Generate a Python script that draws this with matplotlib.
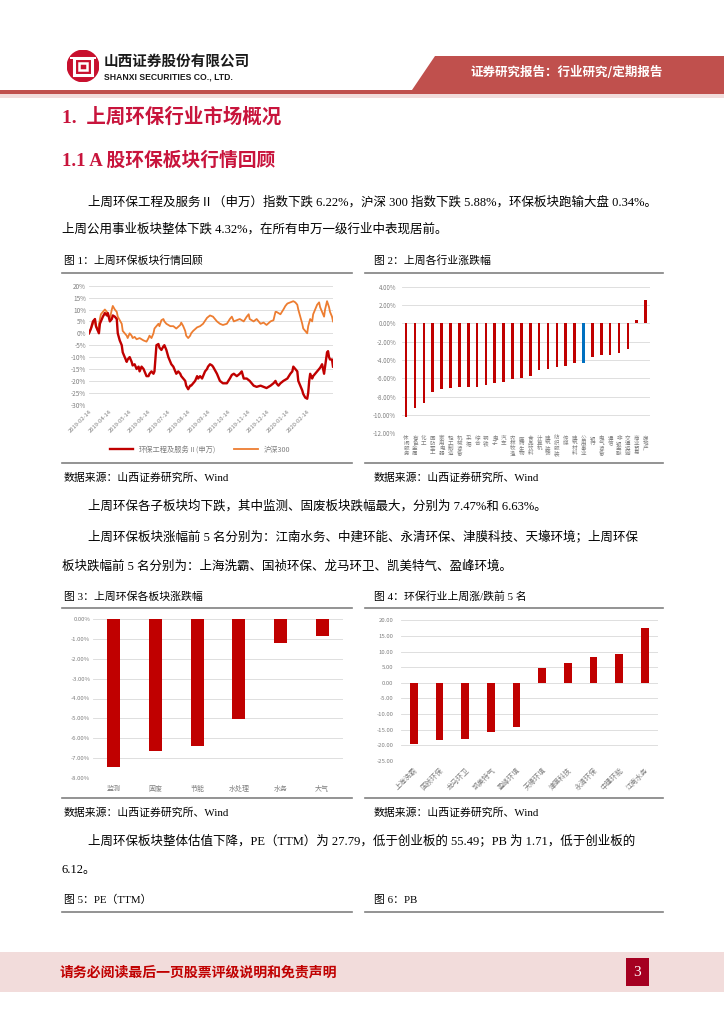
import matplotlib
matplotlib.use("Agg")
import matplotlib.pyplot as plt
from matplotlib.lines import Line2D
from matplotlib.patches import Rectangle, Polygon, Circle

plt.rcParams['font.family'] = ['Noto Sans CJK SC', 'DejaVu Sans']
plt.rcParams['axes.unicode_minus'] = False

W, H = 724, 1024
SERIF = ['Liberation Serif', 'Noto Sans CJK SC']
RED = '#C00000'
GRID = '#D9D9D9'
TICK = '#7F7F7F'

# ---- 图1 数据: 交易日序号 / 累计涨跌幅(%)
hb_day = [0, 2, 4, 6, 7, 9, 10, 11, 13, 14, 16, 18, 19, 21, 23, 24, 26, 28, 29, 31,
          33, 34, 36, 38, 39, 41, 43, 44, 46, 48, 50, 51, 53, 55, 56, 58, 60, 61, 63, 65,
          66, 68, 70, 71, 73, 75, 76, 78, 80, 82, 83, 85, 87, 88, 90, 92, 93, 95, 97, 98,
          100, 102, 103, 105, 107, 109, 110, 112, 114, 115, 117, 119, 120, 122, 124, 125, 129, 132, 135, 139,
          142, 144, 146, 149, 152, 154, 156, 159, 162, 166, 169, 173, 176, 179, 183, 186, 188, 189, 191, 193,
          196, 200, 203, 205, 206, 208, 210, 211, 213, 215, 216, 218, 220, 221, 222, 223, 225, 226, 228, 230,
          232, 233, 235, 237, 238, 240, 241, 242, 243, 245, 246]
hb_val = [0, 2, 5, 6, 3, 1, 0, 4, 6, 7, 8.5, 7.5, 8.5, 5, 6, 7.5, 7, 6, 0, -3,
          -5, -8, -10, -12, -11, -10, -12, -13.5, -13, -15, -14, -16, -14, -15, -16, -18, -18, -17, -16, -17,
          -16, -5, -4.5, -6, -7, -5.5, -5, -7, -10, -12, -13, -14, -16, -17, -16, -17, -18, -19, -20, -22,
          -23.5, -22, -22, -21, -20, -18, -19, -18, -19, -18, -16, -15, -14, -13, -13.5, -14, -17, -20, -21, -21,
          -19, -17.5, -17, -18, -17, -16, -19, -19, -20, -22, -22.5, -22, -22.5, -23, -22, -21, -20, -21, -22, -21,
          -20, -19, -17, -16, -14, -15, -16, -20, -22, -24, -25.5, -27, -27.5, -25, -20, -17, -19, -18, -17, -16,
          -15, -14.5, -13, -17, -14, -8, -7.5, -10, -11, -11, -14]
hs_day = [0, 2, 4, 6, 7, 9, 11, 12, 14, 16, 18, 19, 21, 23, 24, 26, 28, 29, 31, 33,
          34, 36, 38, 39, 41, 43, 44, 46, 48, 51, 55, 58, 60, 61, 63, 65, 66, 68, 70, 71,
          73, 75, 76, 78, 82, 85, 88, 92, 93, 95, 97, 98, 100, 102, 103, 105, 109, 112, 115, 119,
          122, 125, 129, 132, 135, 139, 142, 144, 146, 149, 152, 156, 159, 161, 162, 166, 169, 173, 176, 179,
          183, 186, 188, 189, 193, 196, 198, 200, 203, 206, 208, 210, 211, 213, 215, 216, 218, 220, 221, 223,
          225, 226, 228, 230, 232, 233, 235, 237, 238, 240, 242, 243, 245, 246]
hs_val = [0, 2, 4, 6, 3, 1, 6, 8, 9, 10, 9, 8, 6, 10, 11.5, 10, 9, 7, 5.5, 4,
          1, 0, -1, -2, 0, -1, -2, -1.5, -2.5, -2, -3, -3.5, -2, -1, -2, 0, 2, 3, 4, 3,
          5.5, 6, 5, 4, 3, 3, 2, 3.5, 4.5, 3, 1, -1, -2, -1, 0, 1, 2.5, 3, 4, 6.5,
          7.5, 7, 5, 4, 3.5, 4, 6, 7, 5, 5.5, 6, 5, 7, 8, 6, 5, 6, 4, 4.5, 3.5,
          5, 5.5, 9, 9, 8, 10, 11.5, 12.5, 13, 13.5, 13, 12, 10, 7, 4, 2, 1, 0, 3, 6,
          5, 8, 10, 12, 13, 11, 9, 7, 10, 13.5, 11, 9, 7, 5]
date_ticks = [0, 20, 40, 60, 80, 100, 120, 140, 160, 180, 200, 220]
date_labels = ['2019-02-14', '2019-04-14', '2019-05-14', '2019-06-14', '2019-07-14', '2019-08-14',
               '2019-09-14', '2019-10-14', '2019-11-14', '2019-12-14', '2020-01-14', '2020-02-14']

# ---- 图2 数据: 申万一级行业上周涨跌幅(%)
ind_names = ['休闲服务', '有色金属', '化工', '国防军工', '家用电器', '轻工制造', '机械设备', '采掘',
             '综合', '钢铁', '电子', '汽车', '农林牧渔', '医药生物', '食品饮料', '计算机',
             '建筑装饰', '纺织服装', '传媒', '建筑材料', '公用事业', '银行', '电气设备', '通信',
             '非银金融', '交通运输', '商业贸易', '房地产']
ind_vals = [-10.2, -9.25, -8.7, -7.5, -7.2, -7.1, -7.0, -7.0, -6.9, -6.7, -6.5, -6.45, -6.1, -6.0,
            -5.7, -5.1, -4.95, -4.75, -4.7, -4.3, -4.32, -3.65, -3.5, -3.45, -3.2, -2.8, 0.35, 2.6]
ind_hl = '公用事业'

# ---- 图3 数据: 环保子板块涨跌幅(%)
sub_names = ['监测', '固废', '节能', '水处理', '水务', '大气']
sub_vals = [-7.47, -6.63, -6.40, -5.02, -1.21, -0.86]

# ---- 图4 数据: 涨/跌前5名(%)
stk_names = ['上海洗霸', '国祯环保', '龙马环卫', '凯美特气', '盈峰环境',
             '天壕环境', '津膜科技', '永清环保', '中建环能', '江南水务']
stk_vals = [-19.55, -18.27, -18.06, -15.7, -14.3, 4.6, 6.4, 8.2, 9.1, 17.4]

fig = plt.figure(figsize=(W / 100, H / 100), dpi=100)


def fy(y):
    return 1 - y / H


def add_ax(x0, y0, x1, y1):
    return fig.add_axes([x0 / W, 1 - y1 / H, (x1 - x0) / W, (y1 - y0) / H])


def hline(x0, x1, y, color='#808080', lw=1.2):
    fig.add_artist(Line2D([x0 / W, x1 / W], [fy(y), fy(y)], color=color, lw=lw,
                          transform=fig.transFigure))


def rect(x0, y0, x1, y1, color):
    fig.add_artist(Rectangle((x0 / W, fy(y1)), (x1 - x0) / W, (y1 - y0) / H,
                             transform=fig.transFigure, color=color, lw=0))


def txt(x, y, s, size, **kw):
    kw.setdefault('va', 'center')
    fig.text(x / W, fy(y), s, fontsize=size, **kw)


def excel_style(ax, ylab_size, pad):
    for sp in ax.spines.values():
        sp.set_visible(False)
    ax.grid(axis='y', color=GRID, lw=0.6)
    ax.set_axisbelow(True)
    ax.tick_params(length=0, labelsize=ylab_size, colors=TICK, pad=pad)


# ---- 页眉
rect(0, 90, W, 94, '#C0504D')
rect(0, 94, W, 98, '#F2DCDB')
fig.add_artist(Polygon([(435 / W, fy(56)), (1, fy(56)), (1, fy(90)), (412 / W, fy(90))],
                       closed=True, transform=fig.transFigure, color='#C0504D', lw=0))
txt(567, 73, '证券研究报告：行业研究/定期报告', 9, color='white', weight='bold', ha='center')

lax = add_ax(67, 50, 99, 82)
lax.set_xlim(-1, 1)
lax.set_ylim(-1, 1)
lax.set_aspect('equal')
lax.axis('off')
lax.add_patch(Circle((0, 0), 0.98, color='#C8102E'))
lax.add_patch(Rectangle((-0.55, -0.55), 1.1, 1.05, fill=False, ec='white', lw=2.2))
lax.add_patch(Rectangle((-0.25, -0.25), 0.5, 0.42, fill=False, ec='white', lw=1.8))
lax.add_patch(Rectangle((-0.8, 0.45), 1.6, 0.1, color='white', lw=0))
txt(104, 61, '山西证券股份有限公司', 10.5, weight='bold', color='#1a1a1a')
txt(104, 77, 'SHANXI SECURITIES CO., LTD.', 6.2, weight='bold', color='#1a1a1a',
    family=['Liberation Sans'])

# ---- 正文
HRED = '#C8143C'
txt(62, 117, '1.  上周环保行业市场概况', 14, color=HRED, weight='bold', family=SERIF)
txt(62, 161, '1.1 A 股环保板块行情回顾', 13.5, color=HRED, weight='bold', family=SERIF)
txt(88, 202, '上周环保工程及服务Ⅱ（申万）指数下跌 6.22%，沪深 300 指数下跌 5.88%，环保板块跑输大盘 0.34%。',
    9, family=SERIF)
txt(62, 229, '上周公用事业板块整体下跌 4.32%，在所有申万一级行业中表现居前。', 9, family=SERIF)

txt(64, 261, '图 1：上周环保板块行情回顾', 7.8, family=SERIF)
txt(374, 261, '图 2：上周各行业涨跌幅', 7.8, family=SERIF)
for a, b in [(62, 352), (365, 663)]:
    hline(a, b, 273)
    hline(a, b, 463)
txt(64, 478, '数据来源：山西证券研究所、Wind', 7.8, family=SERIF)
txt(374, 478, '数据来源：山西证券研究所、Wind', 7.8, family=SERIF)

txt(88, 506, '上周环保各子板块均下跌，其中监测、固废板块跌幅最大，分别为 7.47%和 6.63%。', 9, family=SERIF)
txt(88, 538, '上周环保板块涨幅前 5 名分别为：江南水务、中建环能、永清环保、津膜科技、天壕环境；上周环保',
    9, family=SERIF)
txt(62, 566, '板块跌幅前 5 名分别为：上海洗霸、国祯环保、龙马环卫、凯美特气、盈峰环境。', 9, family=SERIF)

txt(64, 597, '图 3：上周环保各板块涨跌幅', 7.8, family=SERIF)
txt(374, 597, '图 4：环保行业上周涨/跌前 5 名', 7.8, family=SERIF)
for a, b in [(62, 352), (365, 663)]:
    hline(a, b, 608)
    hline(a, b, 798)
txt(64, 813, '数据来源：山西证券研究所、Wind', 7.8, family=SERIF)
txt(374, 813, '数据来源：山西证券研究所、Wind', 7.8, family=SERIF)

txt(88, 841, '上周环保板块整体估值下降，PE（TTM）为 27.79，低于创业板的 55.49；PB 为 1.71，低于创业板的',
    9, family=SERIF)
txt(62, 870, '6.12。', 9, family=SERIF)
txt(64, 900, '图 5：PE（TTM）', 7.8, family=SERIF)
txt(374, 900, '图 6：PB', 7.8, family=SERIF)
hline(62, 352, 912)
hline(365, 663, 912)

# ---- 页脚
rect(0, 952, W, 992, '#F2DCDB')
txt(60, 972, '请务必阅读最后一页股票评级说明和免责声明', 10, color=RED, weight='bold')
rect(626, 958, 649, 986, '#A50021')
txt(637.5, 972, '3', 11, color='white', ha='center', family=SERIF)

# ---- 图1
ax1 = add_ax(89, 285.7, 333, 404.7)
ax1.plot(hs_day, hs_val, color='#ED7D31', lw=1.3, label='沪深300')
ax1.plot(hb_day, hb_val, color=RED, lw=1.7, label='环保工程及服务Ⅱ(申万)')
ax1.set_xlim(0, 246)
ax1.set_ylim(-30, 20)
ax1.set_yticks(range(-30, 21, 5))
ax1.set_yticklabels([f'{v}%' for v in range(-30, 21, 5)])
ax1.set_xticks(date_ticks)
ax1.set_xticklabels(date_labels, rotation=45, ha='right', rotation_mode='anchor')
excel_style(ax1, 4.6, 2)
ax1.tick_params(axis='x', labelsize=4.2, pad=3)
h, l = ax1.get_legend_handles_labels()
fig.legend(h[::-1], l[::-1], loc='center', bbox_to_anchor=(200 / W, fy(450)), ncol=2,
           frameon=False, fontsize=5.2, handlelength=3.2, columnspacing=2.5,
           labelcolor=TICK)

# ---- 图2
ax2 = add_ax(401.7, 286.7, 650, 433.3)
cols = ['#0070C0' if n == ind_hl else RED for n in ind_names]
ax2.bar(range(len(ind_names)), ind_vals, width=0.3, color=cols)
ax2.set_xlim(-0.5, len(ind_names) - 0.5)
ax2.set_ylim(-12, 4)
ax2.set_yticks(range(-12, 5, 2))
ax2.set_yticklabels([f'{v:.2f}%' for v in range(-12, 5, 2)])
ax2.set_xticks(range(len(ind_names)))
ax2.set_xticklabels(['\n'.join(n) for n in ind_names], va='top', linespacing=0.95)
excel_style(ax2, 4.4, 4)
ax2.tick_params(axis='x', labelsize=4, pad=2)

# ---- 图3
ax3 = add_ax(93, 619.3, 343, 777.7)
ax3.bar(range(len(sub_names)), sub_vals, width=0.31, color=RED)
ax3.set_xlim(-0.5, len(sub_names) - 0.5)
ax3.set_ylim(-8, 0)
ax3.set_yticks(range(-8, 1))
ax3.set_yticklabels([f'{v:.2f}%' for v in range(-8, 1)])
ax3.set_xticks(range(len(sub_names)))
ax3.set_xticklabels(sub_names)
excel_style(ax3, 4.3, 2)
ax3.tick_params(axis='x', labelsize=5, pad=5)

# ---- 图4
ax4 = add_ax(401, 620.3, 657.7, 760.7)
ax4.bar(range(len(stk_names)), stk_vals, width=0.3, color=RED)
ax4.set_xlim(-0.5, len(stk_names) - 0.5)
ax4.set_ylim(-25, 20)
ax4.set_yticks(range(-25, 21, 5))
ax4.set_yticklabels([f'{v:.2f}' for v in range(-25, 21, 5)])
ax4.set_xticks(range(len(stk_names)))
ax4.set_xticklabels(stk_names, rotation=45, ha='right', rotation_mode='anchor')
excel_style(ax4, 4.3, 5.5)
ax4.tick_params(axis='x', labelsize=5, pad=4)

fig.savefig('out.png', dpi=100)
